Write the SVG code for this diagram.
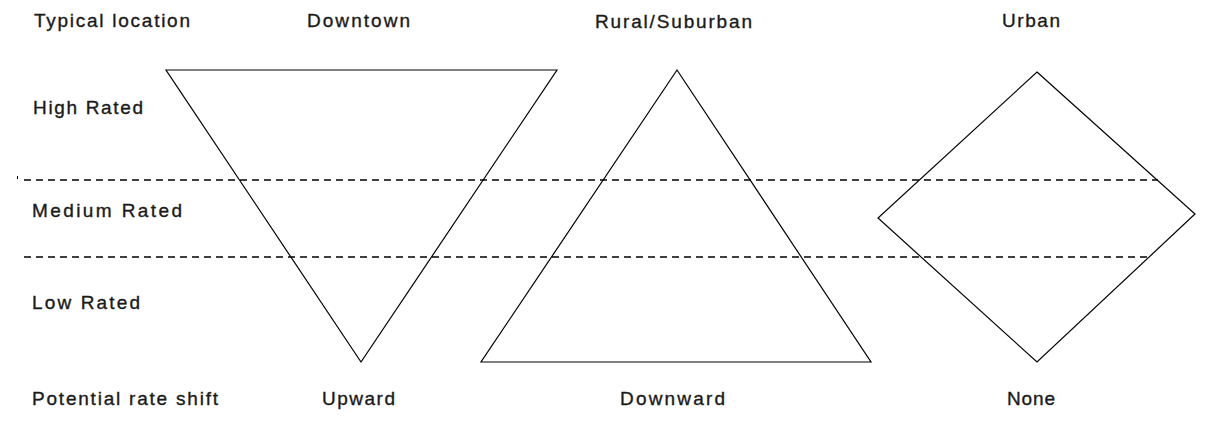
<svg xmlns="http://www.w3.org/2000/svg" width="1221" height="443" viewBox="0 0 1221 443">
<style>
.t{font-family:"Liberation Sans",Arial,sans-serif;font-size:19px;fill:#1a1a1a;stroke:#1a1a1a;stroke-width:0.35;}
.s{fill:none;stroke:#000;stroke-width:1.2;stroke-linejoin:miter;}
.d{stroke:#000;stroke-width:1.4;stroke-dasharray:7 5;fill:none;}
</style>
<rect width="1221" height="443" fill="#fff"/>
<g id="labels">
<text class="t" x="34" y="27" textLength="156" lengthAdjust="spacing">Typical location</text>
<text class="t" x="33" y="114" textLength="110" lengthAdjust="spacing">High Rated</text>
<text class="t" x="32" y="217" textLength="150" lengthAdjust="spacing">Medium Rated</text>
<text class="t" x="32" y="309" textLength="108" lengthAdjust="spacing">Low Rated</text>
<text class="t" x="32" y="405" textLength="186" lengthAdjust="spacing">Potential rate shift</text>
</g>
<g id="guides">
<line class="d" x1="24" y1="180" x2="1158" y2="180"/>
<line class="d" x1="24" y1="257" x2="1147" y2="257"/>
<line x1="17.5" y1="176" x2="17.5" y2="179" stroke="#000" stroke-width="1"/>
</g>
<g id="downtown">
<text class="t" x="307" y="27" textLength="103" lengthAdjust="spacing">Downtown</text>
<polygon class="s" points="166,70 557,70 361,362"/>
<text class="t" x="322" y="405" textLength="73" lengthAdjust="spacing">Upward</text>
</g>
<g id="rural-suburban">
<text class="t" x="595" y="28" textLength="157" lengthAdjust="spacing">Rural/Suburban</text>
<polygon class="s" points="677,70 871,362 481,362"/>
<text class="t" x="620" y="405" textLength="105" lengthAdjust="spacing">Downward</text>
</g>
<g id="urban">
<text class="t" x="1002" y="27" textLength="58" lengthAdjust="spacing">Urban</text>
<polygon class="s" points="1037,72 1195,214 1037,362 878,218"/>
<text class="t" x="1007" y="405" textLength="48" lengthAdjust="spacing">None</text>
</g>
</svg>
